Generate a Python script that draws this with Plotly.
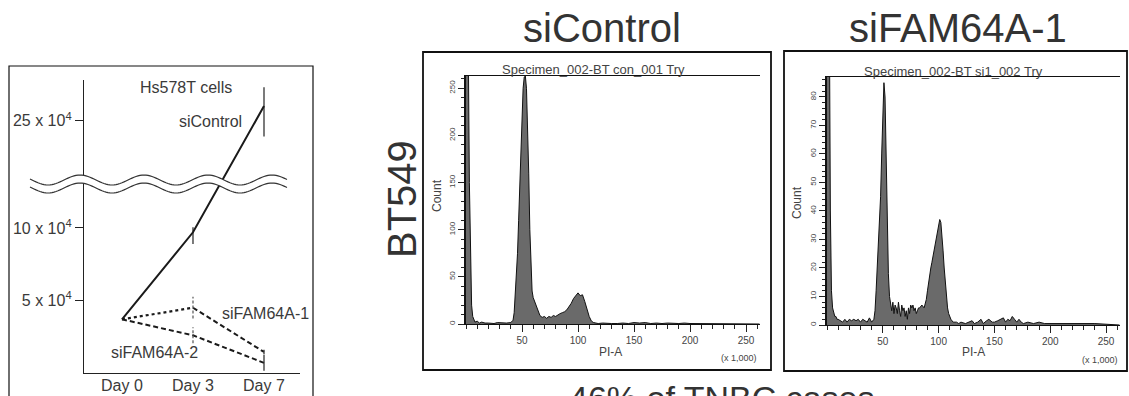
import math
import plotly.graph_objects as go

W, H = 1129, 396


def fx(px):
    return px / W


def fy(py):
    return 1 - py / H


# ---------------- data: left panel (Hs578T growth) ----------------
days = ["Day 0", "Day 3", "Day 7"]
si_control = [3.7e4, 9.7e4, 26.0e4]
si_control_err_up = [0, 0.35e4, 1.3e4]
si_control_err_down = [0, 0.8e4, 2.1e4]
si_fam1 = [3.7e4, 4.5e4, 1.45e4]
si_fam1_err = [0, 0.75e4, 0.15e4]
si_fam2 = [3.7e4, 2.6e4, 0.7e4]
si_fam2_err = [0, 0.55e4, 0.55e4]
y_tick_true = [5e4, 10e4, 25e4]
y_tick_text = ["5 x 10<sup>4</sup>", "10 x 10<sup>4</sup>", "25 x 10<sup>4</sup>"]

# broken axis: values above the break are shifted down by GAP
BREAK_AT = 13.2e4
GAP = 7.6e4


def disp(v):
    return v if v <= BREAK_AT else v - GAP


# ---------------- data: flow cytometry histograms ----------------
ctrl_pi = [0, 1, 2, 3, 4, 5, 6, 7, 8, 10, 12, 14, 17, 20, 25, 28, 32, 36, 40, 42, 43, 44, 45, 46, 47,
           48, 49, 50, 51, 52, 53, 54, 55, 56, 57, 58, 59, 60, 61, 62, 63, 64, 65, 66, 68, 70, 72, 74,
           76, 78, 80, 82, 84, 86, 88, 90, 92, 94, 96, 98, 100, 102, 104, 106, 108, 110, 112, 114,
           116, 118, 122, 126, 130, 135, 140, 145, 150, 155, 160, 165, 170, 175, 180, 190, 195, 200,
           210, 220, 230, 240, 262]
ctrl_count = [300, 300, 300, 150, 60, 20, 8, 4, 2, 3, 1, 2, 1, 1, 0.5, 1.5, 1, 1, 1.5, 4, 12, 30, 50,
              75, 110, 150, 190, 225, 250, 262, 263, 250, 215, 160, 100, 55, 35, 28, 25, 22, 20, 16,
              12, 9, 7, 8, 6, 8, 7, 9, 8, 10, 11, 12, 13, 15, 18, 22, 27, 30, 33, 30, 31, 24, 15, 8,
              3, 1.5, 1, 0.5, 1, 0.5, 0.5, 0.5, 1, 0.5, 1.5, 1, 1.5, 0.5, 1, 0.5, 1, 0.5, 1, 0.5,
              0.5, 0.5, 0.5, 0, 0]

fam_pi = [0, 1, 2, 3, 4, 5, 6, 7, 8, 9, 10, 12, 14, 16, 18, 20, 22, 24, 26, 28, 30, 32, 34, 36, 38,
          40, 42, 43, 44, 45, 46, 47, 48, 49, 50, 51, 52, 53, 54, 55, 56, 57, 58, 59, 60, 61, 62, 63,
          64, 65, 66, 67, 68, 69, 70, 71, 72, 73, 74, 75, 76, 77, 78, 79, 80, 81, 82, 83, 85, 87, 89,
          90, 91, 92, 93, 94, 95, 96, 97, 98, 99, 100, 101, 102, 103, 104, 105, 106, 107, 108, 109,
          110, 111, 113, 116, 118, 120, 124, 128, 130, 132, 135, 138, 140, 143, 145, 148, 150, 153,
          155, 158, 160, 162, 164, 166, 168, 170, 172, 174, 176, 180, 185, 190, 195, 200, 205, 210,
          220, 230, 240, 262]
fam_count = [120, 120, 120, 40, 12, 6, 4, 3, 3, 2, 2, 1.5, 1, 2, 1, 2, 1.5, 2, 1.5, 2, 1, 2, 1.5, 1,
             2.5, 1, 2, 5, 12, 20, 28, 35, 45, 60, 78, 85, 80, 60, 35, 18, 10, 7, 5, 8, 4, 7, 6, 4, 8,
             5, 3, 7, 5, 6, 3, 5, 2, 6, 4, 7, 6, 7, 5, 6, 4, 5, 6, 6, 7, 6, 9, 12, 15, 18, 20, 22, 24,
             26, 28, 30, 33, 35, 37, 36, 32, 26, 20, 14, 9, 6, 4, 3, 2, 1, 1, 0.5, 1, 0.5, 1, 1.5,
             0.5, 1, 2, 0.5, 1.5, 2, 1, 1, 1.5, 2, 2.5, 1, 2, 1.5, 3, 2, 1, 2, 1, 0.5, 1, 0.5, 1, 0.5,
             0.5, 0.5, 0.5, 0.5, 0.5, 0.5, 0]

ctrl_y_ticks = [0, 50, 100, 150, 200, 250]
fam_y_ticks = [0, 10, 20, 30, 40, 50, 60, 70, 80]
pi_ticks = [50, 100, 150, 200, 250]

TXT = "#3a3a3a"
LINE = "#1a1a1a"
LFONT = "Liberation Sans, Arial, sans-serif"

fig = go.Figure()

# ---------- left panel traces ----------
fig.add_trace(go.Scatter(
    x=days, y=[disp(v) for v in si_control], mode="lines",
    line=dict(color=LINE, width=2),
    error_y=dict(type="data", symmetric=False, array=si_control_err_up,
                 arrayminus=si_control_err_down, width=0, thickness=1.3, color="#333"),
    xaxis="x", yaxis="y", showlegend=False))

# siFAM64A-1: dotted to day 3, dashed after
fig.add_trace(go.Scatter(
    x=days[:2], y=si_fam1[:2], mode="lines",
    line=dict(color=LINE, width=2.2, dash="dot"), xaxis="x", yaxis="y", showlegend=False))
fig.add_trace(go.Scatter(
    x=days[1:], y=si_fam1[1:], mode="lines",
    line=dict(color=LINE, width=2, dash="5px,3px"), xaxis="x", yaxis="y", showlegend=False))
fig.add_trace(go.Scatter(
    x=days, y=si_fam2, mode="lines",
    line=dict(color=LINE, width=2, dash="5px,3px"), xaxis="x", yaxis="y", showlegend=False))

# error bars of the siFAM64A lines (dashed at day 3, solid at day 7)
for vals, errs in ((si_fam1, si_fam1_err), (si_fam2, si_fam2_err)):
    fig.add_trace(go.Scatter(
        x=[days[1], days[1]], y=[vals[1] - errs[1], vals[1] + errs[1]], mode="lines",
        line=dict(color="#555", width=1.2, dash="3px,2px"), xaxis="x", yaxis="y",
        showlegend=False))
    fig.add_trace(go.Scatter(
        x=[days[2], days[2]], y=[vals[2] - errs[2], vals[2] + errs[2]], mode="lines",
        line=dict(color="#333", width=1.3), xaxis="x", yaxis="y", showlegend=False))

# ---------- histograms ----------
for xs, ys, xa, ya in ((ctrl_pi, ctrl_count, "x2", "y2"), (fam_pi, fam_count, "x3", "y3")):
    fig.add_trace(go.Scatter(
        x=xs, y=ys, mode="lines", fill="tozeroy", fillcolor="#6a6a6a",
        line=dict(color="#111", width=1), xaxis=xa, yaxis=ya, showlegend=False))

# ---------- axes ----------
fig.update_layout(
    width=W, height=H, margin=dict(l=0, r=0, t=0, b=0),
    paper_bgcolor="white", plot_bgcolor="white",
    xaxis=dict(domain=[fx(84), fx(300)], anchor="y", type="category", categoryorder="array",
               categoryarray=days, range=[-0.535, 2.507], showline=True, linecolor="#222",
               linewidth=1.3, ticks="", showgrid=False, zeroline=False, showticklabels=False),
    yaxis=dict(domain=[fy(373), fy(80)], anchor="x", range=[0, 20.2e4], showline=True,
               linecolor="#222", linewidth=1.3, ticks="outside", ticklen=8, tickwidth=1.2,
               tickcolor="#222", tickmode="array", tickvals=[disp(v) for v in y_tick_true],
               ticktext=y_tick_text, showgrid=False, zeroline=False,
               tickfont=dict(family=LFONT, size=16, color=TXT)),
)

hist_x_common = dict(range=[0, 262.5], showline=True, linecolor="#111", linewidth=1.2,
                     mirror=True, ticks="outside", ticklen=7, tickwidth=1, tickcolor="#222",
                     tickmode="array", tickvals=pi_ticks, showgrid=False, zeroline=False,
                     tickfont=dict(family=LFONT, size=10, color="#444"),
                     minor=dict(dtick=10, tick0=0, ticks="outside", ticklen=4, tickcolor="#222",
                                showgrid=False))
fig.update_layout(
    xaxis2=dict(domain=[fx(466), fx(760)], anchor="y2", **hist_x_common),
    yaxis2=dict(domain=[fy(324), fy(76)], anchor="x2", range=[0, 263], showline=True,
                linecolor="#111", linewidth=1.8, ticks="outside", ticklen=6, tickcolor="#222",
                tickmode="array", tickvals=ctrl_y_ticks, tickangle=-90, showgrid=False,
                zeroline=False, tickfont=dict(family=LFONT, size=8, color="#444"),
                minor=dict(dtick=10, tick0=0, ticks="outside", ticklen=3, tickcolor="#222",
                           showgrid=False)),
    xaxis3=dict(domain=[fx(827), fx(1120)], anchor="y3", **hist_x_common),
    yaxis3=dict(domain=[fy(325), fy(77)], anchor="x3", range=[0, 87], showline=True,
                linecolor="#111", linewidth=1.8, ticks="outside", ticklen=6, tickcolor="#222",
                tickmode="array", tickvals=fam_y_ticks, tickangle=-90, showgrid=False,
                zeroline=False, tickfont=dict(family=LFONT, size=8, color="#444"),
                minor=dict(dtick=2, tick0=0, ticks="outside", ticklen=3, tickcolor="#222",
                           showgrid=False)),
)

# ---------- shapes ----------
shapes = []
# outer boxes
for (x0, y0, x1, y1, w) in ((9, 66, 313, 420, 1.2), (423, 52, 771, 370, 1.8), (784, 51, 1127, 371, 1.8)):
    shapes.append(dict(type="rect", xref="paper", yref="paper", x0=fx(x0), x1=fx(x1),
                       y0=fy(y1), y1=fy(y0), line=dict(color="#111", width=w),
                       fillcolor="rgba(0,0,0,0)", layer="above"))

# wavy axis break
xs = list(range(30, 288, 2)) + [287]
upper = [(x, 180 - 5 * math.cos(2 * math.pi * (x - 80) / 64)) for x in xs]
lower = [(x, y + 8) for x, y in upper]


def path_of(pts):
    return "M" + " L".join(f"{fx(x):.5f},{fy(y):.5f}" for x, y in pts)


shapes.append(dict(type="path", xref="paper", yref="paper",
                   path=path_of(upper + lower[::-1]) + " Z", fillcolor="white",
                   line=dict(width=0), layer="above"))
for pts in (upper, lower):
    shapes.append(dict(type="path", xref="paper", yref="paper", path=path_of(pts),
                       line=dict(color="#333", width=1.2), layer="above"))
fig.update_layout(shapes=shapes)

# ---------- annotations ----------
ann = []


def add_text(text, x, y, size, color=TXT, angle=0, xanchor="center", family=LFONT):
    ann.append(dict(text=text, x=fx(x), y=fy(y), xref="paper", yref="paper", showarrow=False,
                    xanchor=xanchor, yanchor="middle", textangle=angle,
                    font=dict(family=family, size=size, color=color)))


# day labels on the category axis
for d in days:
    ann.append(dict(text=d, x=d, xref="x", y=fy(385), yref="paper", showarrow=False,
                    xanchor="center", yanchor="middle",
                    font=dict(family=LFONT, size=16, color=TXT)))

add_text("Hs578T cells", 186, 87, 16)
add_text("siControl", 210, 121, 16)
add_text("siFAM64A-1", 220, 313, 16, xanchor="left")
add_text("siFAM64A-2", 109, 352, 16, xanchor="left")

add_text("siControl", 602, 28, 40, color="#333")
add_text("siFAM64A-1", 958, 28, 40, color="#333")
add_text("BT549", 402, 199, 40, color="#333", angle=-90)

add_text("Specimen_002-BT con_001 Try", 593, 69, 13, color="#444")
add_text("Specimen_002-BT si1_002 Try", 953, 71, 13, color="#444")
add_text("Count", 437, 196, 12, color="#444", angle=-90)
add_text("Count", 797, 203, 12, color="#444", angle=-90)
add_text("PI-A", 610, 352, 12, color="#444")
add_text("PI-A", 973, 352, 12, color="#444")
add_text("(x 1,000)", 739, 358, 9, color="#444")
add_text("(x 1,000)", 1100, 360, 9, color="#444")

ann.append(dict(text="46% of TNBC cases", x=fx(722), y=fy(377), xref="paper", yref="paper",
                showarrow=False, xanchor="center", yanchor="top",
                font=dict(family=LFONT, size=34, color="#333")))
fig.update_layout(annotations=ann)

fig.write_html("out.html", config={"displayModeBar": False},
               post_script="document.body.style.margin='0';document.body.style.overflow='hidden';")
